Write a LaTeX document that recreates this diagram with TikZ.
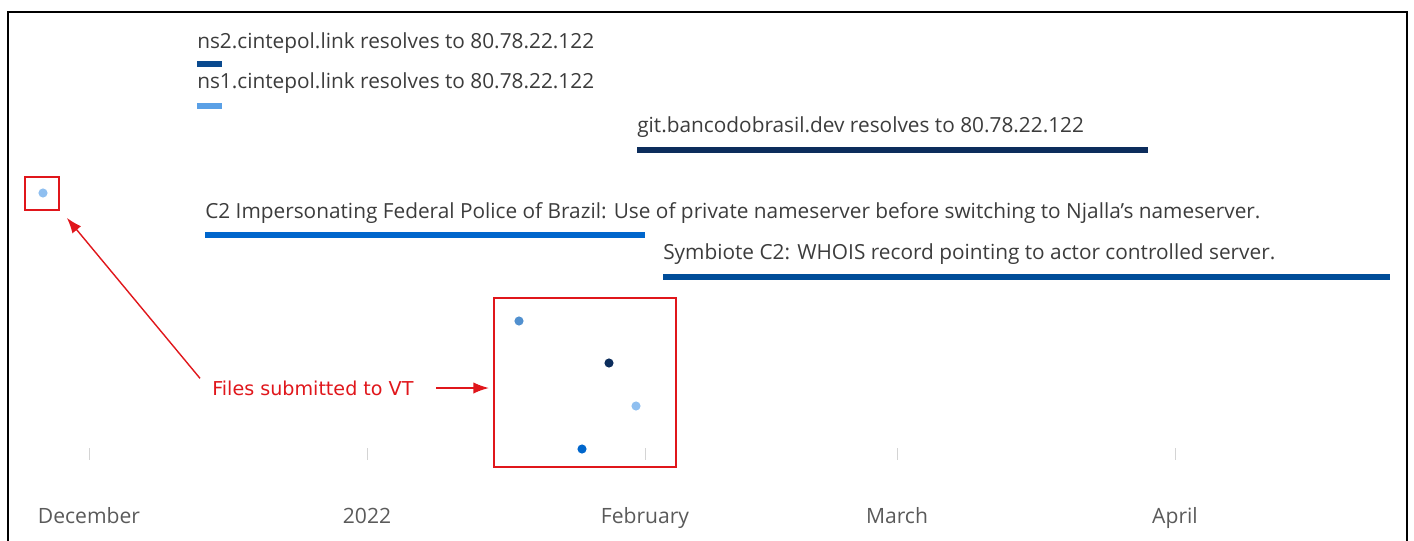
\documentclass[tikz,border=0pt]{standalone}
\usepackage{fontspec}
\setmainfont{Open Sans}
\newfontfamily\notefont{DejaVu Sans}
\usepackage{tikz}
\usetikzlibrary{arrows.meta}
\usetikzlibrary{positioning}

\definecolor{txtgray}{HTML}{3C3C3C}
\definecolor{axgray}{HTML}{5A5A5A}
\definecolor{tickgray}{HTML}{D4D4D4}
\definecolor{vtred}{HTML}{E0161B}
\definecolor{barnavy}{HTML}{0C2D5C}
\definecolor{bardark}{HTML}{0A4A8F}
\definecolor{barmid}{HTML}{004D99}
\definecolor{barblue}{HTML}{0066CC}
\definecolor{barlight}{HTML}{5AA0E6}
\definecolor{dotpale}{HTML}{8FBFF0}

\tikzset{
    evlabel/.style={anchor=base west, inner sep=0pt, text=txtgray,
        font=\fontsize{14.8}{17}\selectfont},
    evbar/.style={line width=3.6pt},
    monthlabel/.style={anchor=base, inner sep=0pt, text=axgray,
        font=\fontsize{15}{17}\selectfont},
    vtbox/.style={draw=vtred, line width=1.2pt, inner sep=0pt},
    vtarrow/.style={vtred, line width=1pt, -{Latex[length=11pt,width=8pt]}},
    sample/.style={circle, inner sep=0pt, minimum size=6.5pt},
}

\begin{document}
\begin{tikzpicture}[x=0.025cm, y=-0.025cm]
    \useasboundingbox (0, 0) rectangle (1414, 540);
    % frame, open at the bottom
    \draw[line width=0.9pt] (8, 545) -- (8, 12) -- (1407, 12) -- (1407, 545);

    % legend entries
    \node[evlabel] (ns2) at (197, 48) {ns2.cintepol.link resolves to 80.78.22.122};
    \draw[evbar, bardark] (197, 64) -- (222, 64);
    \node[evlabel] (ns1) at (197, 88) {ns1.cintepol.link resolves to 80.78.22.122};
    \draw[evbar, barlight] (197, 106) -- (222, 106);

    % time ranges
    \node[evlabel] (git) at (637, 132) {git.bancodobrasil.dev resolves to 80.78.22.122};
    \draw[evbar, barnavy] (637, 150) -- (1148, 150);
    \node[evlabel] (fedpol) at (205, 218) {C2 Impersonating Federal Police of Brazil: Use of private nameserver before switching to Njalla's nameserver.};
    \draw[evbar, barblue] (205, 235) -- (645, 235);
    \node[evlabel] (symb) at (663, 259) {Symbiote C2: WHOIS record pointing to actor controlled server.};
    \draw[evbar, barmid] (663, 277) -- (1390, 277);

    % samples
    \node[sample, fill=dotpale] (s0) at (43, 193) {};
    \node[sample, fill=barlight!90!black] (s1) at (519, 321) {};
    \node[sample, fill=barnavy] (s2) at (609, 363) {};
    \node[sample, fill=dotpale] (s3) at (636, 406) {};
    \node[sample, fill=barblue] (s4) at (582, 449) {};

    % axis
    \foreach \x/\m in {89/December, 367/2022, 645/February, 897/March, 1175/April} {
        \draw[tickgray, line width=0.6pt] (\x, 448) -- (\x, 460);
        \node[monthlabel] (m-\m) at (\x, 523) {\m};
    }

    % callouts
    \node[vtbox, minimum width=0.85cm, minimum height=0.825cm] (boxA) at (42, 193.5) {};
    \node[vtbox, minimum width=4.55cm, minimum height=4.225cm] (boxB) at (585, 382.5) {};
    \node[anchor=west, inner sep=0pt, text=vtred, font=\notefont\fontsize{13.6}{16}\selectfont]
        (vtnote) at (212, 388) {Files submitted to VT};
    \draw[vtarrow] ([shift={(-12,-2)}]vtnote.north west) -- ([shift={(7,7)}]boxA.south east);
    \draw[vtarrow] ([xshift=16]vtnote.east) -- ([xshift=-3]vtnote.east -| boxB.west);
\end{tikzpicture}
\end{document}
